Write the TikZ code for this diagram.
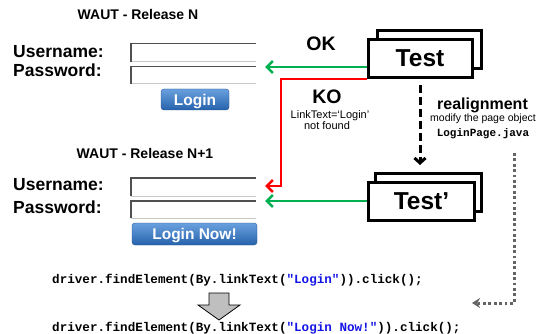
\documentclass[tikz,border=0pt]{standalone}
\usepackage{fontspec}
\setmainfont{Liberation Sans}
\setmonofont{Liberation Mono}
\usetikzlibrary{positioning, arrows.meta, calc}

\definecolor{okgreen}{RGB}{0,176,80}
\definecolor{kored}{RGB}{255,0,0}
\definecolor{btntop}{RGB}{105,160,222}
\definecolor{btnbot}{RGB}{38,98,172}
\definecolor{btnline}{RGB}{40,80,140}
\definecolor{fielddark}{RGB}{80,80,80}
\definecolor{fieldlight}{RGB}{200,200,200}
\definecolor{codeblue}{RGB}{20,20,230}
\definecolor{dotgray}{RGB}{100,100,100}
\newcommand{\fsz}[1]{\fontsize{#1pt}{#1pt}\selectfont}

\begin{document}
\begin{tikzpicture}
  [
    x=1pt, y=-1pt,
    heading/.style={font=\bfseries\fsz{14}, inner sep=0pt, anchor=base},
    fieldname/.style={font=\bfseries\fsz{17.5}, inner sep=0pt, anchor=base west},
    field/.style={minimum width=125pt, minimum height=18pt, inner sep=0pt},
    button/.style={rounded corners=3pt, draw=btnline, top color=btntop, bottom color=btnbot,
      text=white, font=\bfseries\fsz{15.5}, inner sep=0pt, text depth=0pt},
    testbox/.style={draw, line width=3pt, fill=white, minimum width=104pt, minimum height=38pt,
      inner sep=0pt, text depth=0pt, font=\bfseries\fsz{24.5}},
    verdict/.style={font=\bfseries\fsz{19.5}, inner sep=0pt, anchor=base},
    note/.style={font=\fsz{11}, inner sep=0pt, anchor=base},
    codeline/.style={font=\ttfamily\bfseries\fsz{12.6}, inner sep=0pt, anchor=base west}
  ]
    \useasboundingbox (0,0) rectangle (538,334);
    % =========================================================================
    % NODES
    % =========================================================================
    % --- RELEASE N ---
    \node [heading] (relN) at (138,20) {WAUT - Release N};
    \node [fieldname] (user1lbl) at (13,58) {Username:};
    \node [fieldname] (pass1lbl) at (13,77) {Password:};
    \node [field] (user1) at (193.5,52.5) {};
    \node [field, minimum height=17pt] (pass1) at (193.5,75) {};
    \node [button, minimum width=68pt, minimum height=21pt] (login1) at (195,99.5) {Login};

    % --- RELEASE N+1 ---
    \node [heading] (relN1) at (145,158) {WAUT - Release N+1};
    \node [fieldname] (user2lbl) at (13,190) {Username:};
    \node [fieldname] (pass2lbl) at (13,213) {Password:};
    \node [field] (user2) at (193.5,187) {};
    \node [field, minimum height=17pt] (pass2) at (193.5,209.5) {};
    \node [button, minimum width=125pt, minimum height=22pt] (login2) at (194.5,234) {Login Now!};

    % --- TESTS ---
    \node [testbox] (test1back) at (429,49.5) {};
    \node [testbox] (test1) at (420,58.5) {Test};
    \node [testbox, minimum width=106pt] (test2back) at (428.5,192.5) {};
    \node [testbox, minimum width=106pt] (test2) at (421.5,201.5) {Test’};

    % --- LABELS ---
    \node [verdict] (ok) at (321,51) {OK};
    \node [verdict] (ko) at (327,104) {KO};
    \node [note] (kotext) at (330,119) {LinkText=‘Login’};
    \node [note] (kotext2) at (327,130) {not found};
    \node [font=\bfseries\fsz{16}, inner sep=0pt, anchor=base] (realign) at (482.5,110) {realignment};
    \node [note, font=\fsz{10.5}] (realtext) at (483,122) {modify the page object};
    \node [font=\ttfamily\bfseries\fsz{11}, inner sep=0pt, anchor=base] (javafile) at (483,137) {LoginPage.java};

    % --- CODE ---
    \node [codeline] (oldcall) at (52,283)
      {driver.findElement(By.linkText(\textcolor{codeblue}{"Login"})).click();};
    \node [codeline] (newcall) at (52,331)
      {driver.findElement(By.linkText(\textcolor{codeblue}{"Login Now!"})).click();};

    \coordinate (okend) at (265,67);
    \coordinate (kocorner) at (281,186);
    \coordinate (koend) at (265,186);
    \coordinate (ok2end) at (265,201);
    \coordinate (realtop) at (514,153);
    \coordinate (realcorner) at (514,303);
    \coordinate (realend) at (472,303);

    % =========================================================================
    % PATHS
    % =========================================================================
    % --- FIELDS ---
    \foreach \f in {user1, pass1, user2, pass2} {
      \draw [fieldlight, line width=1pt] (\f.south west) -- (\f.south east);
      \draw [fielddark, line width=1.5pt] (\f.south west) -- (\f.north west) -- (\f.north east);
    }
    % --- RESULTS ---
    \draw [-{Straight Barb[length=6pt, width=12pt]}, okgreen, line width=2.5pt]
      (okend -| test1.west) -- (okend);
    \draw [-{Straight Barb[length=6pt, width=12pt]}, kored, line width=2.5pt]
      (test1.south west) -| (kocorner) -- (koend);
    \draw [-{Straight Barb[length=6pt, width=12pt]}, okgreen, line width=2.5pt]
      (ok2end -| test2.west) -- (ok2end);
    % --- REALIGNMENT ---
    \draw [-{Straight Barb[length=5pt, width=11pt]}, line width=3pt, dash pattern=on 8pt off 4pt]
      ([yshift=-6pt]test1.south) -- ([yshift=7pt]test2back.north -| test1.south);
    \draw [-{Stealth[length=8pt, width=10pt]}, dotgray, line width=3pt, dash pattern=on 2.8pt off 2.6pt]
      (realtop) -- (realcorner) -- (realend);
    % --- CHANGE ---
    \draw [fill=gray!50, line width=0.8pt]
      (209,293) -- (229,293) -- (229,305) -- (240,305) -- (219,320) -- (198,305) -- (209,305) -- cycle;

  \end{tikzpicture}
\end{document}
